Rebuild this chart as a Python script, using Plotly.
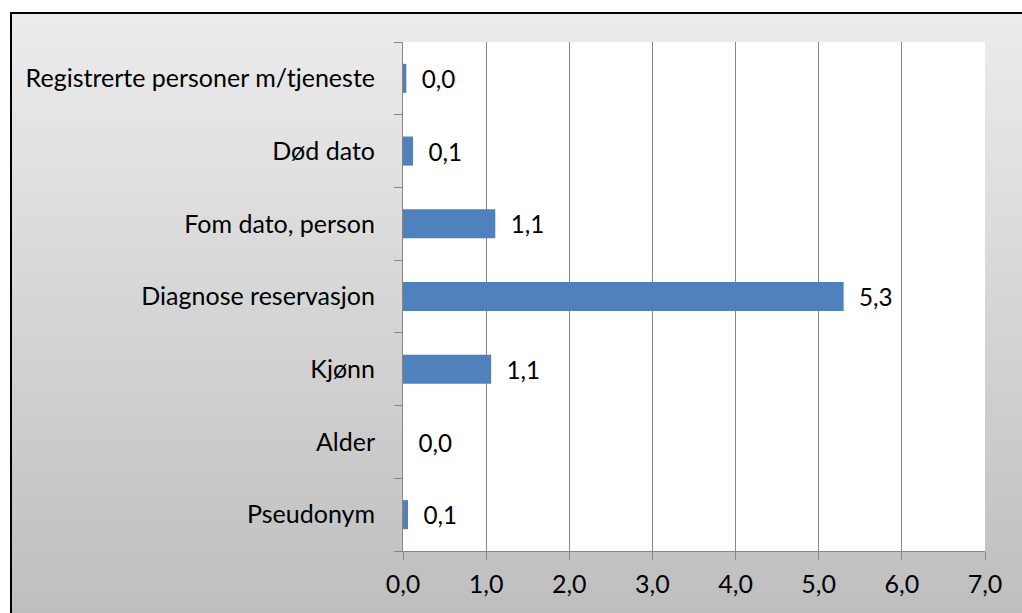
import plotly.graph_objects as go

categories = ["Pseudonym", "Alder", "Kjønn", "Diagnose reservasjon",
              "Fom dato, person", "Død dato", "Registrerte personer m/tjeneste"]
values = [0.06, 0.0, 1.06, 5.30, 1.11, 0.12, 0.04]
x_ticks = [0, 1, 2, 3, 4, 5, 6, 7]
x_tick_labels = ["0,0", "1,0", "2,0", "3,0", "4,0", "5,0", "6,0", "7,0"]

W, H = 1022, 613
L, R, T, B = 403, 37, 42, 62
pw, ph = W - L - R, H - T - B

def px_to_paper_x(px):
    return (px - L) / pw

def px_to_paper_y(py):
    return (H - B - py) / ph

FONT = "Lato"
FS = 25

fig = go.Figure()
fig.add_trace(go.Bar(
    y=categories, x=values, orientation="h",
    marker=dict(color="#4f81bd", line=dict(width=0)),
    texttemplate="\u00a0\u00a0%{x:.1f}", textposition="outside",
    textfont=dict(family=FONT, size=FS, color="#000000"),
    cliponaxis=False, hoverinfo="skip",
))

shapes = []
# gradient background (outer chart area)
top_py, bot_py = 13, 616
n = 60
c_top, c_bot = 236, 190
for i in range(n):
    y0 = top_py + (bot_py - top_py) * i / n
    y1 = top_py + (bot_py - top_py) * (i + 1) / n + 0.8
    c = round(c_top + (c_bot - c_top) * (i + 0.5) / n)
    shapes.append(dict(type="rect", xref="paper", yref="paper", layer="below",
                       x0=px_to_paper_x(11), x1=px_to_paper_x(1030),
                       y0=px_to_paper_y(y0), y1=px_to_paper_y(y1),
                       fillcolor=f"rgb({c},{c},{c})", line=dict(width=0)))
# white plot area
shapes.append(dict(type="rect", xref="paper", yref="paper", layer="below",
                   x0=0, x1=1, y0=0, y1=1, fillcolor="white", line=dict(width=0)))
# outer border
shapes.append(dict(type="rect", xref="paper", yref="paper", layer="above",
                   x0=px_to_paper_x(11), x1=px_to_paper_x(1040),
                   y0=px_to_paper_y(640), y1=px_to_paper_y(13),
                   fillcolor="rgba(0,0,0,0)", line=dict(color="black", width=2)))

fig.update_layout(
    width=W, height=H,
    margin=dict(l=L, r=R, t=T, b=B, pad=0),
    paper_bgcolor="white", plot_bgcolor="rgba(0,0,0,0)",
    bargap=0.6, showlegend=False,
    separators=", ",
    shapes=shapes,
    font=dict(family=FONT, size=FS, color="#000000"),
    xaxis=dict(range=[0, 7], tickvals=x_ticks, ticktext=x_tick_labels,
               showgrid=True, gridcolor="#868686", gridwidth=1,
               showline=True, linecolor="#868686", linewidth=1,
               ticks="outside", ticklen=8, tickcolor="#868686",
               ticklabelstandoff=3, zeroline=False,
               tickfont=dict(family=FONT, size=FS, color="#000000")),
    yaxis=dict(categoryorder="array", categoryarray=categories,
               showgrid=False, showline=True, linecolor="#868686", linewidth=1,
               ticks="outside", ticklen=8, tickcolor="#868686",
               tickson="boundaries", ticklabelstandoff=22,
               tickfont=dict(family=FONT, size=FS, color="#000000")),
)

fig.write_html("out.html", config={"displayModeBar": False},
               post_script="document.body.style.margin='0px';document.body.style.overflow='hidden';")
